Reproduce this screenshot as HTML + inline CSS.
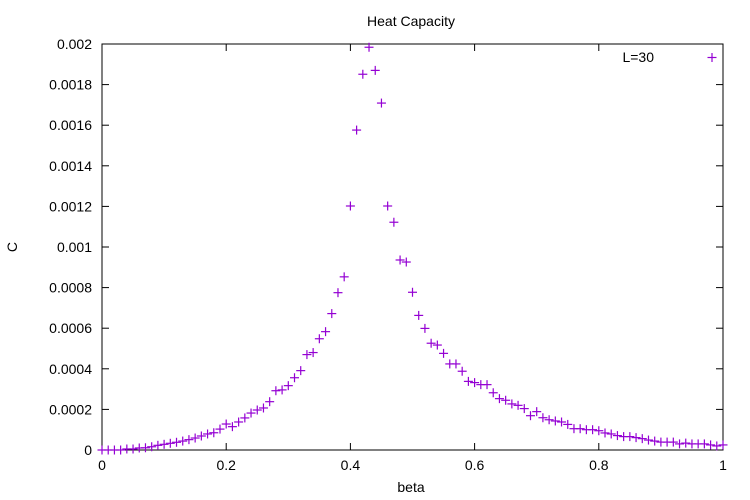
<!DOCTYPE html>
<html><head><meta charset="utf-8"><style>
body{margin:0;background:#fff}
svg{display:block;font-family:"Liberation Sans",sans-serif;font-size:14px}
</style></head><body>
<svg id="chart" width="750" height="500" viewBox="0 0 750 500">
<rect width="750" height="500" fill="#fff"/>
<text x="411" y="26" text-anchor="middle">Heat Capacity</text>
<text x="411" y="492" text-anchor="middle">beta</text>
<text transform="translate(17,247) rotate(-90)" text-anchor="middle">C</text>
<g id="axes"></g>
<g id="marks"></g>
<text x="654" y="62" text-anchor="end">L=30</text>
<g stroke="#9400d3" stroke-width="1.2"><line x1="707.5" y1="57.5" x2="716.5" y2="57.5"/><line x1="712" y1="53" x2="712" y2="62"/></g>
</svg>
<script>
const betas=[0,.01,.02,.03,.04,.05,.06,.07,.08,.09,.10,.11,.12,.13,.14,.15,.16,.17,.18,.19,.20,.21,.22,.23,.24,.25,.26,.27,.28,.29,.30,.31,.32,.33,.34,.35,.36,.37,.38,.39,.40,.41,.42,.43,.44,.45,.46,.47,.48,.49,.50,.51,.52,.53,.54,.55,.56,.57,.58,.59,.60,.61,.62,.63,.64,.65,.66,.67,.68,.69,.70,.71,.72,.73,.74,.75,.76,.77,.78,.79,.80,.81,.82,.83,.84,.85,.86,.87,.88,.89,.90,.91,.92,.93,.94,.95,.96,.97,.98,.99,1.0];
const cValues=[0,0,0,0,5e-6,5e-6,10e-6,11e-6,16e-6,23e-6,28e-6,33e-6,38e-6,44e-6,51e-6,59e-6,69e-6,79e-6,85e-6,103e-6,128e-6,115e-6,138e-6,158e-6,182e-6,197e-6,207e-6,238e-6,292e-6,296e-6,317e-6,356e-6,391e-6,470e-6,480e-6,548e-6,583e-6,672e-6,775e-6,853e-6,1202e-6,1576e-6,1851e-6,1984e-6,1870e-6,1709e-6,1202e-6,1122e-6,936e-6,926e-6,777e-6,663e-6,599e-6,526e-6,517e-6,476e-6,424e-6,424e-6,388e-6,338e-6,332e-6,322e-6,322e-6,282e-6,253e-6,245e-6,227e-6,220e-6,204e-6,169e-6,189e-6,159e-6,149e-6,143e-6,138e-6,126e-6,105e-6,105e-6,100e-6,100e-6,95e-6,84e-6,79e-6,71e-6,66e-6,66e-6,61e-6,56e-6,49e-6,44e-6,39e-6,39e-6,39e-6,30e-6,34e-6,30e-6,30e-6,30e-6,25e-6,20e-6,25e-6];
const xTicks=[0,0.2,0.4,0.6,0.8,1];
const xTickLabels=["0","0.2","0.4","0.6","0.8","1"];
const yTicks=[0,0.0002,0.0004,0.0006,0.0008,0.001,0.0012,0.0014,0.0016,0.0018,0.002];
const yTickLabels=["0","0.0002","0.0004","0.0006","0.0008","0.001","0.0012","0.0014","0.0016","0.0018","0.002"];
const L=102,R=723,T=44,B=450;
const sx=v=>L+v*(R-L);
const sy=v=>B-v/0.002*(B-T);
const NS="http://www.w3.org/2000/svg";
const axes=document.getElementById('axes'),marks=document.getElementById('marks');
function mk(tag,attrs,parent){const e=document.createElementNS(NS,tag);for(const k in attrs)e.setAttribute(k,attrs[k]);parent.appendChild(e);return e;}
const frame=mk('rect',{x:L,y:T,width:R-L,height:B-T,fill:'none',stroke:'#000','stroke-width':1},axes);


xTicks.forEach((v,i)=>{const x=sx(v);
 mk('line',{x1:x,y1:B,x2:x,y2:B-7,stroke:'#000'},axes);
 mk('line',{x1:x,y1:T,x2:x,y2:T+7,stroke:'#000'},axes);
 const t=mk('text',{x:x,y:470,'text-anchor':'middle'},axes);t.textContent=xTickLabels[i];
 
 
});
yTicks.forEach((v,i)=>{const y=sy(v);
 mk('line',{x1:L,y1:y,x2:L+7,y2:y,stroke:'#000'},axes);
 mk('line',{x1:R,y1:y,x2:R-7,y2:y,stroke:'#000'},axes);
 const t=mk('text',{x:92,y:y+5,'text-anchor':'end'},axes);t.textContent=yTickLabels[i];
 
 
});
betas.forEach((b,i)=>{const x=sx(b),y=sy(cValues[i]);
 const g=mk('g',{stroke:'#9400d3','stroke-width':1.2},marks);
 
 
 mk('line',{x1:x-4.5,y1:y,x2:x+4.5,y2:y},g);
 mk('line',{x1:x,y1:y-4.5,x2:x,y2:y+4.5},g);
});
</script>
</body></html>
